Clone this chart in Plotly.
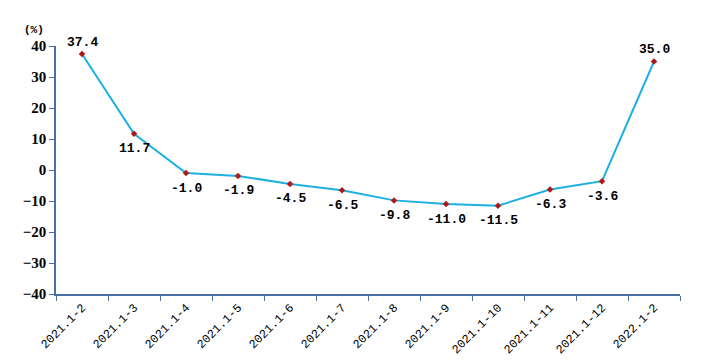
import plotly.graph_objects as go

categories = ["2021.1-2", "2021.1-3", "2021.1-4", "2021.1-5", "2021.1-6", "2021.1-7",
              "2021.1-8", "2021.1-9", "2021.1-10", "2021.1-11", "2021.1-12", "2022.1-2"]
values = [37.4, 11.7, -1.0, -1.9, -4.5, -6.5, -9.8, -11.0, -11.5, -6.3, -3.6, 35.0]
label_above = [True] + [False] * 10 + [True]
y_ticks = [-40, -30, -20, -10, 0, 10, 20, 30, 40]

axis_color = "#4a6fa5"

fig = go.Figure(go.Scatter(
    x=categories, y=values, mode="lines+markers",
    line=dict(color="#1cb0e0", width=2),
    marker=dict(symbol="diamond", size=5, color="#b01818"),
    cliponaxis=False,
))

annotations = []
for c, v, up in zip(categories, values, label_above):
    annotations.append(dict(
        x=c, y=v, xref="x", yref="y", text=f"{v:.1f}", showarrow=False,
        yanchor="middle", xanchor="center", yshift=12 if up else -15,
        font=dict(family="Liberation Mono", size=13, color="black", weight="bold"),
    ))
annotations.append(dict(text="(%)", x=0.0, y=1.0, xref="paper", yref="paper",
                        xanchor="right", yanchor="bottom", xshift=-10, yshift=8,
                        showarrow=False,
                        font=dict(family="Liberation Mono", size=11, color="black", weight="bold")))

fig.update_layout(
    width=718, height=355,
    margin=dict(l=48, r=46, t=38, b=69),
    plot_bgcolor="white", paper_bgcolor="white",
    showlegend=False,
    annotations=annotations,
    xaxis=dict(
        type="category", range=[-0.5, 11.5], tickson="boundaries", ticks="outside", ticklen=5,
        tickcolor=axis_color, showline=True, linecolor=axis_color, linewidth=1.5,
        showgrid=False, tickangle=-45, automargin=False,
        tickfont=dict(family="Liberation Mono", size=12, color="black"),
    ),
    yaxis=dict(
        range=[-40, 40], tickvals=y_ticks, ticks="outside", ticklen=5,
        tickcolor=axis_color, showline=True, linecolor=axis_color, linewidth=1.5,
        showgrid=False, zeroline=False, automargin=False,
        tickfont=dict(family="Liberation Serif", size=15, color="black", weight="bold"),
    ),
)

fig.write_html("out.html")
